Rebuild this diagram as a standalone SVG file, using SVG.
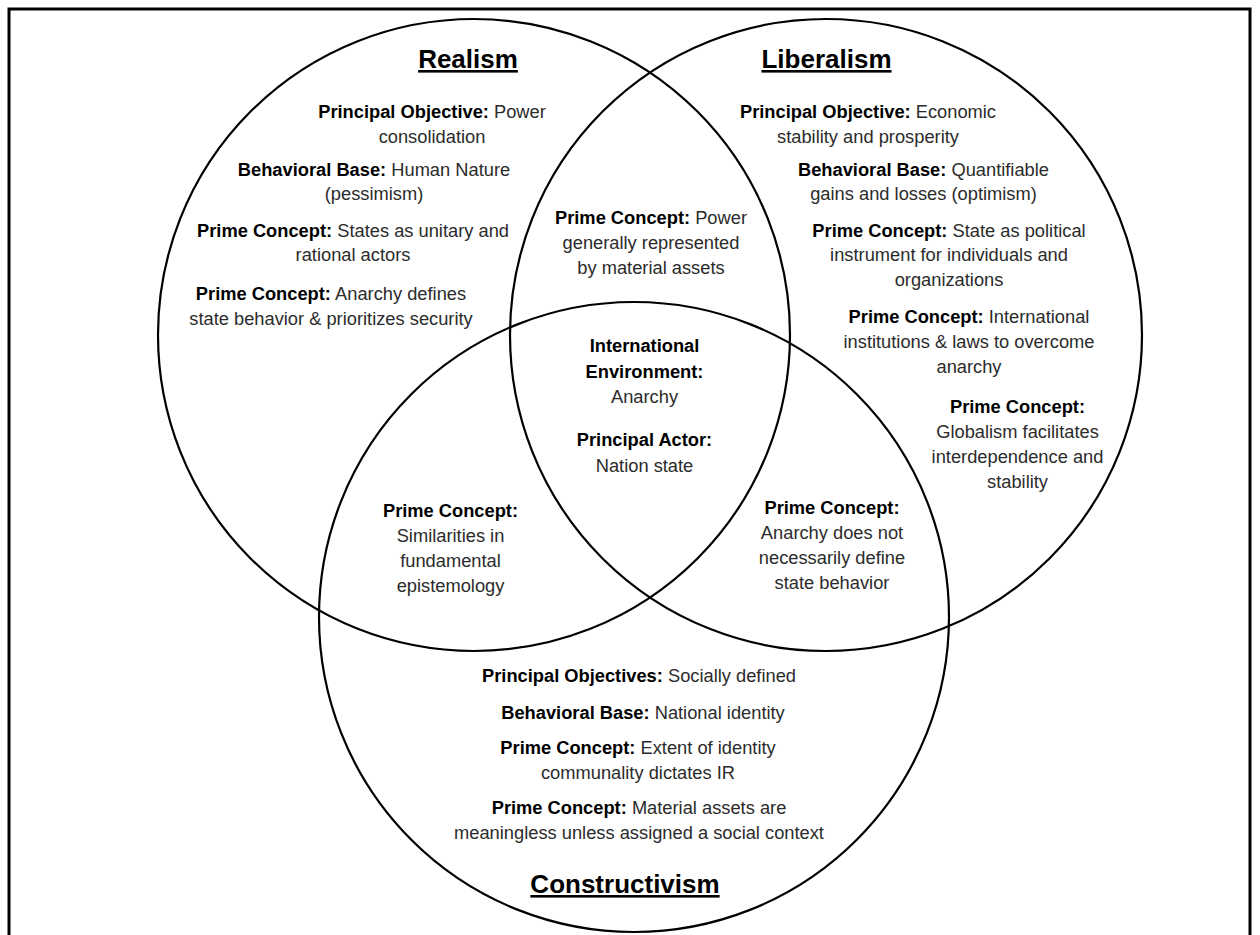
<svg xmlns="http://www.w3.org/2000/svg" width="1260" height="935" viewBox="0 0 1260 935">
<style>
text{font-family:"Liberation Sans",Arial,sans-serif;font-size:18.3px;fill:#2b2b2b;text-anchor:middle}
.b{font-weight:bold;fill:#000}
.t{font-weight:bold;font-size:26px;fill:#000;text-decoration:underline}
.c{fill:none;stroke:#000;stroke-width:2.2}
</style>
<rect x="0" y="0" width="1260" height="935" fill="#fff"/>
<rect x="9" y="9" width="1241" height="950" fill="none" stroke="#000" stroke-width="3"/>
<g id="circles">
<circle class="c" cx="474" cy="335" r="316"/>
<circle class="c" cx="826" cy="335" r="316"/>
<circle class="c" cx="634" cy="617" r="315"/>
</g>
<g id="realism">
<text class="t" x="468" y="68">Realism</text>
<text x="432" y="118"><tspan class="b">Principal Objective:</tspan> Power</text>
<text x="432" y="143">consolidation</text>
<text x="374" y="176"><tspan class="b">Behavioral Base:</tspan> Human Nature</text>
<text x="374" y="200">(pessimism)</text>
<text x="353" y="237"><tspan class="b">Prime Concept:</tspan> States as unitary and</text>
<text x="353" y="261">rational actors</text>
<text x="331" y="300"><tspan class="b">Prime Concept:</tspan> Anarchy defines</text>
<text x="331" y="325">state behavior &amp; prioritizes security</text>
</g>
<g id="realism-liberalism">
<text x="651" y="224"><tspan class="b">Prime Concept:</tspan> Power</text>
<text x="651" y="249">generally represented</text>
<text x="651" y="274">by material assets</text>
</g>
<g id="liberalism">
<text class="t" x="826.5" y="68">Liberalism</text>
<text x="868" y="118"><tspan class="b">Principal Objective:</tspan> Economic</text>
<text x="868" y="143">stability and prosperity</text>
<text x="923.5" y="176"><tspan class="b">Behavioral Base:</tspan> Quantifiable</text>
<text x="923.5" y="200">gains and losses (optimism)</text>
<text x="949" y="237"><tspan class="b">Prime Concept:</tspan> State as political</text>
<text x="949" y="261">instrument for individuals and</text>
<text x="949" y="286">organizations</text>
<text x="969" y="323"><tspan class="b">Prime Concept:</tspan> International</text>
<text x="969" y="348">institutions &amp; laws to overcome</text>
<text x="969" y="373">anarchy</text>
<text x="1017.5" y="413" class="b">Prime Concept:</text>
<text x="1017.5" y="438">Globalism facilitates</text>
<text x="1017.5" y="463">interdependence and</text>
<text x="1017.5" y="488">stability</text>
</g>
<g id="center">
<text x="644.5" y="352" class="b">International</text>
<text x="644.5" y="378" class="b">Environment:</text>
<text x="644.5" y="403">Anarchy</text>
<text x="644.5" y="446" class="b">Principal Actor:</text>
<text x="644.5" y="472">Nation state</text>
</g>
<g id="realism-constructivism">
<text x="450.5" y="517" class="b">Prime Concept:</text>
<text x="450.5" y="542">Similarities in</text>
<text x="450.5" y="567">fundamental</text>
<text x="450.5" y="592">epistemology</text>
</g>
<g id="liberalism-constructivism">
<text x="832" y="514" class="b">Prime Concept:</text>
<text x="832" y="539">Anarchy does not</text>
<text x="832" y="564">necessarily define</text>
<text x="832" y="589">state behavior</text>
</g>
<g id="constructivism">
<text x="639" y="682"><tspan class="b">Principal Objectives:</tspan> Socially defined</text>
<text x="643" y="719"><tspan class="b">Behavioral Base:</tspan> National identity</text>
<text x="638" y="754"><tspan class="b">Prime Concept:</tspan> Extent of identity</text>
<text x="638" y="779">communality dictates IR</text>
<text x="639" y="814"><tspan class="b">Prime Concept:</tspan> Material assets are</text>
<text x="639" y="839">meaningless unless assigned a social context</text>
<text class="t" x="625" y="893">Constructivism</text>
</g>
</svg>
